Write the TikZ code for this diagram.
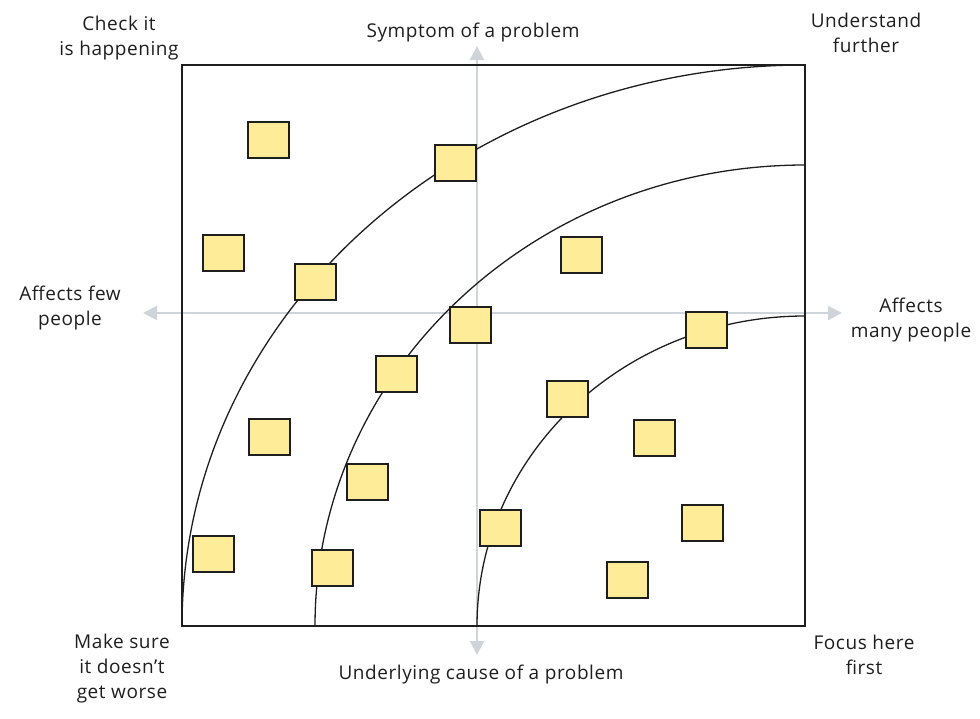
\documentclass[tikz,border=0pt]{standalone}
\usepackage{fontspec}
\setmainfont{Open Sans}[LetterSpace=3]
\usepackage{xcolor}
\usetikzlibrary{arrows.meta}
\definecolor{notefill}{HTML}{FFEC99}
\definecolor{inkline}{HTML}{1E1E1E}
\definecolor{axisgrey}{HTML}{CED4DA}

\begin{document}
\begin{tikzpicture}[x=1pt,y=-1pt,
	note/.style={draw=inkline,line width=2pt,fill=notefill,minimum width=41pt,minimum height=36pt,inner sep=0pt},
	axis/.style={draw=axisgrey,line width=2pt,{Triangle[width=14pt,length=14pt]}-{Triangle[width=14pt,length=14pt]}},
	ring/.style={draw=inkline,line width=1.3pt},
	caption/.style={text=inkline,align=center,font=\fontsize{19}{25}\selectfont}]
	\useasboundingbox (0,0) rectangle (980,718);
	%	\draw[help lines] (182,65) grid (805,626);
	% axes
	\coordinate (ytop) at (477,46);
	\coordinate (ybot) at (477,655);
	\coordinate (xleft) at (143,313);
	\coordinate (xright) at (842,313);
	\draw[axis] (ybot) -- (ytop);
	\draw[axis] (xleft) -- (xright);
	% frame
	\coordinate (tl) at (182,65);
	\coordinate (br) at (805,626);
	\draw[draw=inkline,line width=2pt] (tl) rectangle (br);
	% rings round the bottom right corner
	\coordinate (r1) at (182,626);
	\coordinate (r2) at (315,626);
	\coordinate (r3) at (477,626);
	\draw[ring] (r1) arc[start angle=180,end angle=270,x radius=623,y radius=561];
	\draw[ring] (r2) arc[start angle=180,end angle=270,x radius=490,y radius=461];
	\draw[ring] (r3) arc[start angle=180,end angle=270,x radius=328,y radius=310];
	% sticky notes
	\node (n1) at (268,140) [note] {};
	\node (n2) at (223,253) [note] {};
	\node (n3) at (315,282) [note] {};
	\node (n4) at (455,163) [note] {};
	\node (n5) at (581,255) [note] {};
	\node (n6) at (470,325) [note] {};
	\node (n7) at (706,330) [note] {};
	\node (n8) at (396,374) [note] {};
	\node (n9) at (567,399) [note] {};
	\node (n10) at (269,437) [note] {};
	\node (n11) at (654,438) [note] {};
	\node (n12) at (367,482) [note] {};
	\node (n13) at (213,554) [note] {};
	\node (n14) at (332,568) [note] {};
	\node (n15) at (500,528) [note] {};
	\node (n16) at (702,523) [note] {};
	\node (n17) at (627,580) [note] {};
	% texts
	\node (check) at (119,38) [caption] {Check it\\is happening};
	\node (understand) at (866,33) [caption] {Understand\\further};
	\node (symptom) at (473,33) [caption] {Symptom of a problem};
	\node (few) at (70,308) [caption] {Affects few\\people};
	\node (many) at (911,320) [caption] {Affects\\many people};
	\node (worse) at (122,669) [caption] {Make sure\\it doesn't\\get worse};
	\node (cause) at (481,675) [caption] {Underlying cause of a problem};
	\node (focus) at (864,655) [caption] {Focus here\\first};
\end{tikzpicture}
\end{document}
